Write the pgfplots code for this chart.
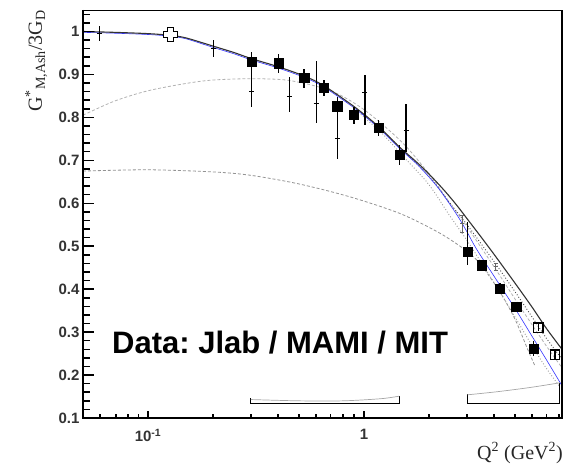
\documentclass[border=0pt]{standalone}
\usepackage{pgfplots}
\pgfplotsset{compat=1.18}
\usepackage{pgfplotstable}
\usepackage{fontspec}
\setmainfont{Liberation Serif}
\newfontfamily\arialf{Liberation Sans}
\frenchspacing

\pgfdeclareplotmark{oplus}{%
  \pgfmathsetmacro{\ms}{\pgfplotmarksize}%
  \pgfmathsetmacro{\ma}{0.42*\pgfplotmarksize}%
  \pgfpathmoveto{\pgfqpoint{-\ma pt}{\ms pt}}%
  \pgfpathlineto{\pgfqpoint{\ma pt}{\ms pt}}%
  \pgfpathlineto{\pgfqpoint{\ma pt}{\ma pt}}%
  \pgfpathlineto{\pgfqpoint{\ms pt}{\ma pt}}%
  \pgfpathlineto{\pgfqpoint{\ms pt}{-\ma pt}}%
  \pgfpathlineto{\pgfqpoint{\ma pt}{-\ma pt}}%
  \pgfpathlineto{\pgfqpoint{\ma pt}{-\ms pt}}%
  \pgfpathlineto{\pgfqpoint{-\ma pt}{-\ms pt}}%
  \pgfpathlineto{\pgfqpoint{-\ma pt}{-\ma pt}}%
  \pgfpathlineto{\pgfqpoint{-\ms pt}{-\ma pt}}%
  \pgfpathlineto{\pgfqpoint{-\ms pt}{\ma pt}}%
  \pgfpathlineto{\pgfqpoint{-\ma pt}{\ma pt}}%
  \pgfpathclose
  \pgfusepathqfillstroke}

% filled squares (Jlab)
\pgfplotstableread{
x y ep em
0.302 0.930 0.023 0.023
0.401 0.926 0.022 0.022
0.528 0.892 0.021 0.023
0.653 0.870 0.016 0.020
0.752 0.826 0.021 0.021
0.899 0.807 0.017 0.022
1.165 0.776 0.018 0.020
1.458 0.714 0.021 0.025
3.02 0.488 0.069 0.032
3.51 0.456 0.012 0.012
4.26 0.402 0.012 0.012
5.06 0.359 0.012 0.012
6.08 0.262 0.018 0.017
}\squares

% small crosses (MAMI / MIT)
\pgfplotstableread{
x y ep em
0.0598 0.995 0.017 0.016
0.201 0.960 0.021 0.020
0.302 0.860 0.060 0.036
0.451 0.849 0.045 0.037
0.600 0.833 0.098 0.046
0.752 0.750 0.097 0.046
1.01 0.857 0.041 0.074
1.565 0.770 0.060 0.051
}\crosses

\pgfplotstableread{
x y
0.05 1.000
0.07 0.998
0.1 0.995
0.127 0.991
0.15 0.985
0.2 0.966
0.25 0.951
0.3 0.937
0.4 0.918
0.53 0.896
0.65 0.874
0.9 0.825
1.165 0.779
1.458 0.731
1.75 0.696
2.0 0.668
2.37 0.628
2.7 0.594
3.0 0.564
3.5 0.520
4.0 0.481
5.0 0.414
6.0 0.358
7.0 0.308
8.25 0.260
}\mainc

\pgfplotstableread{
x y
0.05 0.998
0.07 0.996
0.1 0.993
0.127 0.989
0.15 0.983
0.2 0.963
0.25 0.948
0.3 0.934
0.4 0.915
0.53 0.893
0.65 0.871
0.9 0.822
1.165 0.776
1.458 0.728
1.75 0.692
2.0 0.661
2.25 0.630
2.7 0.572
3.0 0.533
3.32 0.493
4.0 0.430
5.0 0.355
6.0 0.290
7.0 0.235
8.25 0.175
}\bluec

\pgfplotstableread{
x y
0.9 0.824
1.2 0.772
1.5 0.725
2.0 0.663
2.5 0.600
3.0 0.550
4.0 0.464
5.0 0.394
6.0 0.335
7.0 0.285
8.25 0.237
}\dotA

\pgfplotstableread{
x y
0.9 0.820
1.2 0.765
1.5 0.712
2.0 0.643
2.5 0.570
3.0 0.513
4.0 0.415
5.0 0.335
6.0 0.268
7.0 0.215
8.0 0.175
}\dotB

\pgfplotstableread{
x y
0.05 0.805
0.07 0.838
0.1 0.862
0.15 0.879
0.2 0.887
0.3 0.890
0.45 0.886
0.7 0.862
1.0 0.818
1.5 0.742
2.0 0.668
2.5 0.600
3.0 0.545
4.0 0.452
5.0 0.377
6.0 0.317
7.0 0.267
8.25 0.217
}\dashU

\pgfplotstableread{
x y
0.05 0.675
0.1 0.678
0.2 0.673
0.3 0.665
0.5 0.645
0.86 0.615
1.47 0.576
2.25 0.530
3.0 0.488
3.5 0.455
4.3 0.390
5.0 0.330
5.7 0.262
6.2 0.220
}\dashL

\begin{document}
\begin{tikzpicture}
\begin{axis}[
  scale only axis, width=479pt, height=408pt,
  xmode=log, xmin=0.05, xmax=8.25, ymin=0.1, ymax=1.05,
  axis line style={line width=1pt, black},
  xtick={0.1,1}, xticklabels={10\textsuperscript{-1},1},
  minor xtick={},
  ytick={0.1,0.2,0.3,0.4,0.5,0.6,0.7,0.8,0.9,1},
  yticklabels={0.1,0.2,0.3,0.4,0.5,0.6,0.7,0.8,0.9,1},
  tick style={draw=none},
  ticklabel style={font=\arialf\bfseries\fontsize{15}{15}\selectfont, text=black!80},
  xticklabel style={yshift=-8pt},
]
% theory curves
\addplot[gray!60, dash pattern=on 3pt off 2pt, line width=0.8pt, smooth] table {\dashU};
\addplot[gray!85, dash pattern=on 3pt off 2pt, line width=0.8pt, smooth] table {\dashL};
\addplot[black!70, dotted, line width=0.9pt, smooth] table {\dotA};
\addplot[gray!80, dotted, line width=0.9pt, smooth] table {\dotB};
\addplot[blue!80, line width=0.6pt, smooth] table {\bluec};
\addplot[black!80, line width=1.1pt, smooth] table {\mainc};
% systematic error bands
\addplot[black, line width=1.1pt] coordinates {(0.299,0.146) (0.299,0.134) (1.458,0.134) (1.458,0.151)};
\addplot[gray!70, line width=0.7pt, smooth] coordinates {(0.299,0.143) (0.5,0.140) (0.8,0.140) (1.2,0.145) (1.458,0.151)};
\addplot[black, line width=1.1pt] coordinates {(3.01,0.155) (3.01,0.134) (8.07,0.134) (8.07,0.182)};
\addplot[gray!70, line width=0.7pt, smooth] coordinates {(3.01,0.154) (4.1,0.161) (5.86,0.171) (8.07,0.182)};
% data: small crosses
\addplot[black, only marks, mark=+, mark size=2.5pt, line width=1pt,
  error bars/.cd, y dir=both, y explicit, error mark=none,
  error bar style={line width=1.2pt}]
  table[x=x, y=y, y error plus=ep, y error minus=em] {\crosses};
\addplot[black!60, only marks, mark=-, mark size=2pt, line width=0.8pt,
  error bars/.cd, y dir=both, y explicit, error mark=-, error bar style={line width=0.8pt}]
  coordinates {(2.85,0.552) +- (0,0.02) (4.07,0.452) +- (0,0.008)};
% data: filled squares
\addplot[black, only marks, mark=square*, mark size=4.6pt,
  error bars/.cd, y dir=both, y explicit, error mark=none,
  error bar style={line width=1.4pt}]
  table[x=x, y=y, y error plus=ep, y error minus=em] {\squares};
% open squares
\addplot[black, only marks, mark=square, mark size=4.8pt, line width=1.3pt,
  mark options={fill=white},
  error bars/.cd, y dir=both, y explicit, error mark=none,
  error bar style={line width=1.2pt}]
  coordinates {(6.41,0.310) +- (0,0.008) (7.66,0.247) +- (0,0.012)};
% open plus
\addplot[black, only marks, mark=oplus, mark size=7pt, line width=1.4pt,
  mark options={fill=white}] coordinates {(0.127,0.993)};
\end{axis}
\path (-83pt,-49pt) rectangle (494pt,418pt);
\node[anchor=base west, inner sep=0pt, font=\arialf\bfseries\fontsize{31}{31}\selectfont]
  at (29pt,65pt) {Data: Jlab / MAMI / MIT};
\node[anchor=base west, inner sep=0pt, rotate=90, font=\fontsize{20}{20}\selectfont, text=black!85]
  at (-41pt,306pt) {G\textsuperscript{*}\textsubscript{M,Ash}/3G\textsubscript{D}};
\node[anchor=base west, inner sep=0pt, font=\fontsize{20}{20}\selectfont, text=black!85]
  at (394pt,-41pt) {Q\textsuperscript{2} (GeV\textsuperscript{2})};
% axis frame (left, bottom, right heavier)
\draw[black, line width=1.7pt] (0pt,408pt) -- (0pt,0pt) -- (479pt,0pt) -- (479pt,408pt);
% inward x ticks
\foreach \v in {0.06,0.07,0.08,0.09,0.2,0.3,0.4,0.5,0.6,0.7,0.8,0.9,2,3,4,5,6,7,8} {
  \pgfmathsetmacro{\xx}{216.01*(log10(\v)+1.30103)}
  \draw[black, line width=1.4pt] (\xx pt,0pt) -- (\xx pt,4.5pt);
}
\foreach \v in {0.1,1} {
  \pgfmathsetmacro{\xx}{216.01*(log10(\v)+1.30103)}
  \draw[black, line width=1.4pt] (\xx pt,0pt) -- (\xx pt,7pt);
}
% inward y ticks (minor every 0.02, major every 0.1)
\draw[black, line width=1.5pt]
 (0pt,8.59pt) -- (6.5pt,8.59pt)
 (0pt,17.18pt) -- (6.5pt,17.18pt)
 (0pt,25.77pt) -- (6.5pt,25.77pt)
 (0pt,34.36pt) -- (6.5pt,34.36pt)
 (0pt,42.95pt) -- (10.5pt,42.95pt)
 (0pt,51.54pt) -- (6.5pt,51.54pt)
 (0pt,60.13pt) -- (6.5pt,60.13pt)
 (0pt,68.72pt) -- (6.5pt,68.72pt)
 (0pt,77.30pt) -- (6.5pt,77.30pt)
 (0pt,85.89pt) -- (10.5pt,85.89pt)
 (0pt,94.48pt) -- (6.5pt,94.48pt)
 (0pt,103.07pt) -- (6.5pt,103.07pt)
 (0pt,111.66pt) -- (6.5pt,111.66pt)
 (0pt,120.25pt) -- (6.5pt,120.25pt)
 (0pt,128.84pt) -- (10.5pt,128.84pt)
 (0pt,137.43pt) -- (6.5pt,137.43pt)
 (0pt,146.02pt) -- (6.5pt,146.02pt)
 (0pt,154.61pt) -- (6.5pt,154.61pt)
 (0pt,163.20pt) -- (6.5pt,163.20pt)
 (0pt,171.79pt) -- (10.5pt,171.79pt)
 (0pt,180.38pt) -- (6.5pt,180.38pt)
 (0pt,188.97pt) -- (6.5pt,188.97pt)
 (0pt,197.56pt) -- (6.5pt,197.56pt)
 (0pt,206.15pt) -- (6.5pt,206.15pt)
 (0pt,214.74pt) -- (10.5pt,214.74pt)
 (0pt,223.32pt) -- (6.5pt,223.32pt)
 (0pt,231.91pt) -- (6.5pt,231.91pt)
 (0pt,240.50pt) -- (6.5pt,240.50pt)
 (0pt,249.09pt) -- (6.5pt,249.09pt)
 (0pt,257.68pt) -- (10.5pt,257.68pt)
 (0pt,266.27pt) -- (6.5pt,266.27pt)
 (0pt,274.86pt) -- (6.5pt,274.86pt)
 (0pt,283.45pt) -- (6.5pt,283.45pt)
 (0pt,292.04pt) -- (6.5pt,292.04pt)
 (0pt,300.63pt) -- (10.5pt,300.63pt)
 (0pt,309.22pt) -- (6.5pt,309.22pt)
 (0pt,317.81pt) -- (6.5pt,317.81pt)
 (0pt,326.40pt) -- (6.5pt,326.40pt)
 (0pt,334.99pt) -- (6.5pt,334.99pt)
 (0pt,343.58pt) -- (10.5pt,343.58pt)
 (0pt,352.17pt) -- (6.5pt,352.17pt)
 (0pt,360.76pt) -- (6.5pt,360.76pt)
 (0pt,369.35pt) -- (6.5pt,369.35pt)
 (0pt,377.93pt) -- (6.5pt,377.93pt)
 (0pt,386.52pt) -- (10.5pt,386.52pt)
 (0pt,395.11pt) -- (6.5pt,395.11pt)
 (0pt,403.70pt) -- (6.5pt,403.70pt);
\end{tikzpicture}
\end{document}
